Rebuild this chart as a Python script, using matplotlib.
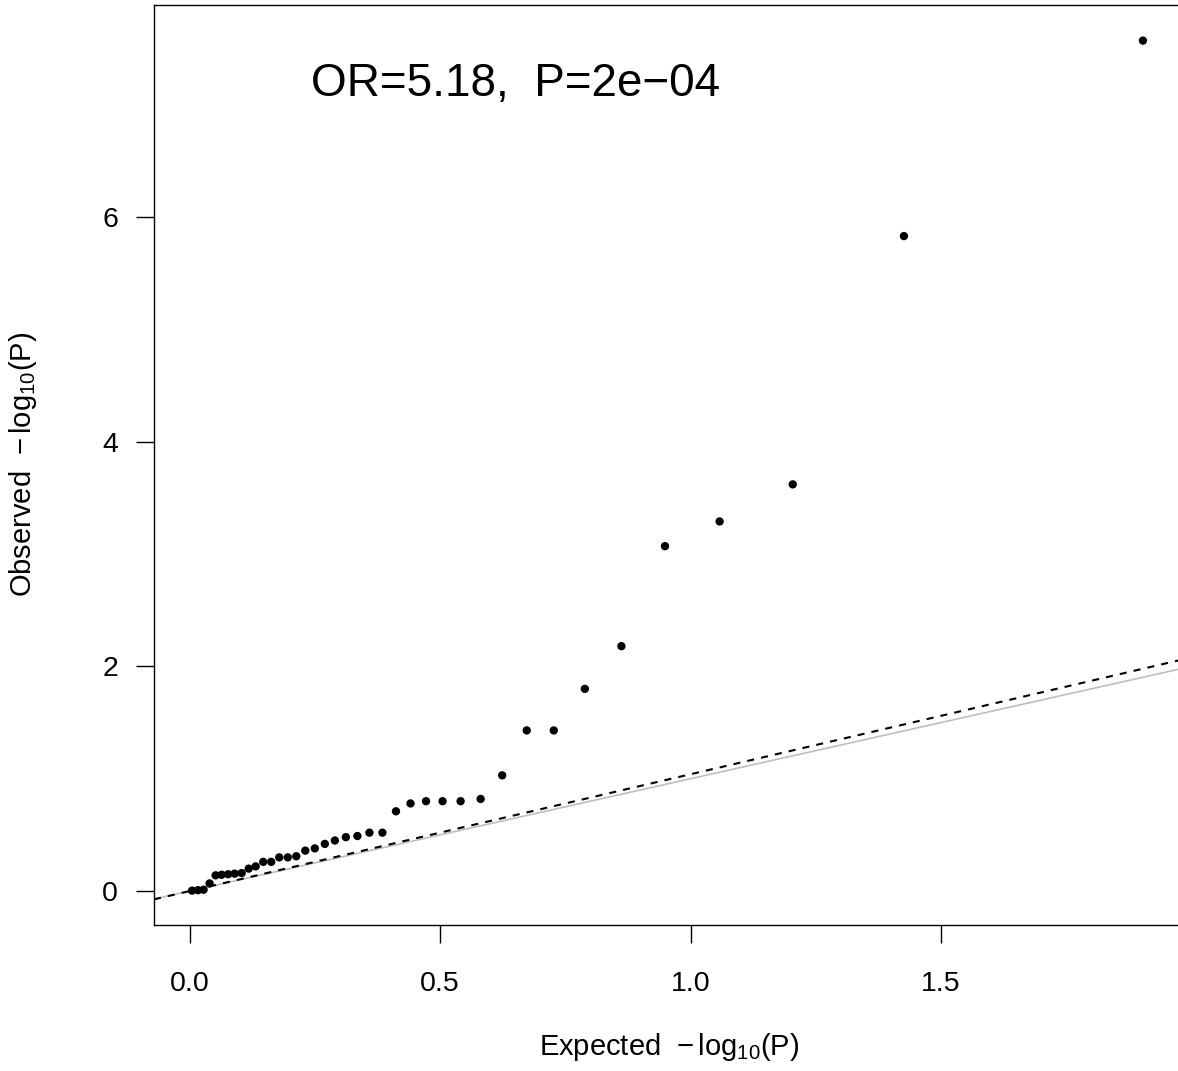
import matplotlib
matplotlib.use('Agg')
import matplotlib.pyplot as plt

plt.rcParams['font.family'] = ['Liberation Sans', 'DejaVu Sans']
plt.rcParams['mathtext.fontset'] = 'custom'
plt.rcParams['mathtext.rm'] = 'Liberation Sans'
plt.rcParams['mathtext.it'] = 'Liberation Sans:italic'
plt.rcParams['mathtext.bf'] = 'Liberation Sans:bold'

# expected vs observed -log10(P)
expected = [1.903, 1.426, 1.204, 1.058, 0.949, 0.862, 0.789, 0.727, 0.673, 0.624,
            0.581, 0.541, 0.505, 0.472, 0.441, 0.412, 0.385, 0.359, 0.335, 0.312,
            0.290, 0.270, 0.250, 0.231, 0.213, 0.196, 0.179, 0.163, 0.147, 0.132,
            0.118, 0.104, 0.090, 0.077, 0.064, 0.052, 0.040, 0.028, 0.017, 0.005]
observed = [7.57, 5.83, 3.62, 3.29, 3.07, 2.18, 1.80, 1.43, 1.43, 1.03,
            0.82, 0.80, 0.80, 0.80, 0.78, 0.71, 0.52, 0.52, 0.49, 0.48,
            0.45, 0.42, 0.38, 0.36, 0.31, 0.30, 0.30, 0.26, 0.26, 0.22,
            0.20, 0.16, 0.155, 0.15, 0.145, 0.14, 0.068, 0.012, 0.008, 0.004]

# fitted (dashed) line
fit_intercept = 0.0
fit_slope = 1.04

annot = 'OR=5.18,  P=2e\u221204'
xticks = [0.0, 0.5, 1.0, 1.5]
xtick_labels = ['0.0', '0.5', '1.0', '1.5']
yticks = [0, 2, 4, 6]

W, H = 1178, 1071
fig = plt.figure(figsize=(W / 100, H / 100), dpi=100)
left, right, top, bottom = 154, 1181, 5, 925
ax = fig.add_axes([left / W, 1 - bottom / H, (right - left) / W, (bottom - top) / H])

ax.set_xlim(-0.071, 1.979)
ax.set_ylim(-0.302, 7.887)

ax.axline((0, 0), slope=1, color='#bebebe', lw=1.2, zorder=1)
ax.axline((0, fit_intercept), slope=fit_slope, color='black', lw=1.5,
          linestyle=(0, (3.4, 3.4)), zorder=2)
ax.scatter(expected, observed, s=36, color='black', edgecolors='none', zorder=3)

ax.text(0.65, 7.18, annot, fontsize=33, ha='center', va='center')

ax.set_xticks(xticks)
ax.set_xticklabels(xtick_labels)
ax.set_yticks(yticks)
ax.tick_params(direction='out', length=13, width=1, labelsize=20.5)
ax.tick_params(axis='x', pad=20)
ax.tick_params(axis='y', pad=13)
for s in ax.spines.values():
    s.set_linewidth(1)

fig.text(669 / W, 16 / H, r'Expected  $-\,\mathrm{log}_{10}(\mathrm{P})$',
         fontsize=21, ha='center', va='baseline')
fig.text(23 / W, 1 - 464 / H, r'Observed  $-\,\mathrm{log}_{10}(\mathrm{P})$',
         fontsize=21, ha='center', va='center', rotation=90)

fig.savefig('out.png', dpi=100)
